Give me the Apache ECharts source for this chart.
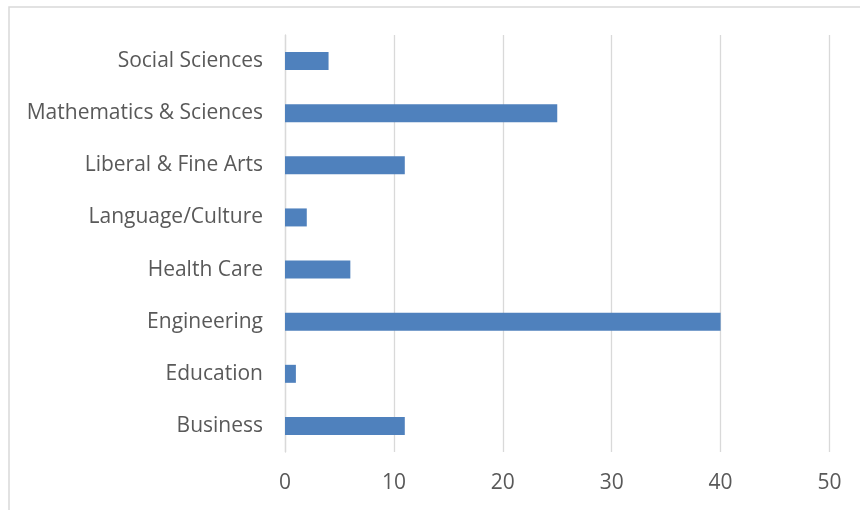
<!DOCTYPE html>
<html>
<head>
<meta charset="utf-8">
<script src="https://cdn.jsdelivr.net/npm/echarts@6/dist/echarts.min.js"></script>
<style>html,body{margin:0;padding:0;background:#fff}#c{width:860px;height:510px}</style>
</head>
<body>
<div id="c"></div>
<script>
const categories = ["Business","Education","Engineering","Health Care","Language/Culture","Liberal & Fine Arts","Mathematics & Sciences","Social Sciences"];
const values = [11, 1, 40, 6, 2, 11, 25, 4];
const xTicks = {min: 0, max: 50, interval: 10};

const chart = echarts.init(document.getElementById('c'), null, {renderer: 'canvas'});
const font = '"Open Sans", "Noto Sans", sans-serif';
chart.setOption({
  backgroundColor: '#ffffff',
  animation: false,
  graphic: [{
    type: 'rect', left: 6.5, top: 4.5,
    shape: {width: 900, height: 600},
    style: {fill: 'none', stroke: '#d9d9d9', lineWidth: 1.5},
    z: -10, silent: true
  }],
  grid: {left: 285, right: 30.5, top: 35, bottom: 58, containLabel: false},
  xAxis: {
    type: 'value', min: xTicks.min, max: xTicks.max, interval: xTicks.interval,
    axisLine: {show: false}, axisTick: {show: false},
    splitLine: {show: true, lineStyle: {color: '#d9d9d9', width: 1.3}},
    axisLabel: {color: '#595959', fontSize: 21, fontFamily: font, margin: 21}
  },
  yAxis: {
    type: 'category', data: categories,
    axisLine: {show: true, lineStyle: {color: '#d9d9d9', width: 1.3}},
    axisTick: {show: false},
    axisLabel: {color: '#595959', fontSize: 21, fontFamily: font, margin: 22, padding: [2, 0, 0, 0]}
  },
  series: [{
    type: 'bar', data: values, barWidth: 18,
    itemStyle: {color: '#4f81bd'}
  }]
});
</script>
</body>
</html>
